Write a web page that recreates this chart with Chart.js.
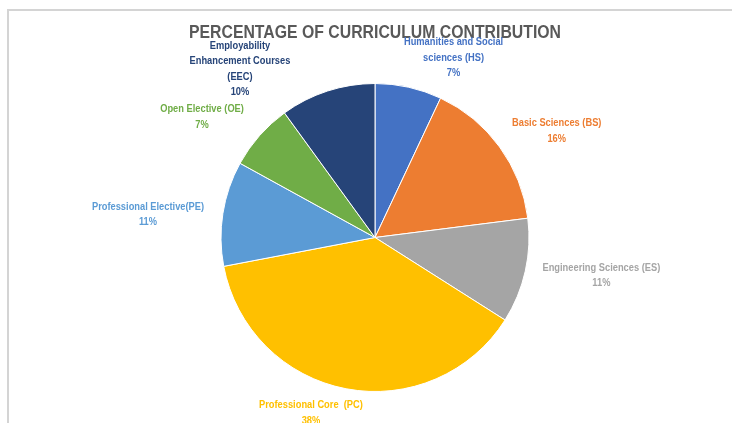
<!DOCTYPE html>
<html>
<head>
<meta charset="utf-8">
<script src="https://cdn.jsdelivr.net/npm/chart.js@4.4.1/dist/chart.umd.min.js"></script>
<style>
  html, body { margin: 0; padding: 0; background: #fff; }
  #wrap { width: 732px; height: 423px; }
</style>
</head>
<body>
<div id="wrap"><canvas id="pie"></canvas></div>
<script>
// ── Data ──
const TITLE = 'PERCENTAGE OF CURRICULUM CONTRIBUTION';
const categories = [
  ['Humanities and Social', 'sciences (HS)'],
  ['Basic Sciences (BS)'],
  ['Engineering Sciences (ES)'],
  ['Professional Core  (PC)'],
  ['Professional Elective(PE)'],
  ['Open Elective (OE)'],
  ['Employability', 'Enhancement Courses', '(EEC)']
];
const shares = [7, 16, 11, 38, 11, 7, 10];
const colors = ['#4472C4', '#ED7D31', '#A5A5A5', '#FFC000', '#5B9BD5', '#70AD47', '#264478'];
// label block centres, in units of the pie radius from the pie centre
const labelPos = [[0.51, -1.166], [1.18, -0.69], [1.47, 0.247], [-0.416, 1.14], [-1.474, -0.149], [-1.123, -0.78], [-0.877, -1.094]];

const FONT = '"Liberation Sans", sans-serif';

// ── Frame + title + data labels ──
const decor = {
  id: 'decor',
  beforeDraw(chart) {
    const c = chart.ctx;
    c.save();
    c.strokeStyle = '#d4d4d4';
    c.lineWidth = 2;
    c.beginPath();
    c.moveTo(8, 423); c.lineTo(8, 10); c.lineTo(732, 10);
    c.stroke();
    c.restore();
  },
  afterDraw(chart) {
    const c = chart.ctx;
    const arc0 = chart.getDatasetMeta(0).data[0];
    const cx = arc0.x, cy = arc0.y, r = arc0.outerRadius;
    c.save();
    c.textAlign = 'center';
    c.textBaseline = 'middle';
    c.fillStyle = '#595959';
    c.font = 'bold 18px ' + FONT;
    c.fillText(TITLE, cx, 33, 372);
    c.font = 'bold 10px ' + FONT;
    const lh = 15.5;
    categories.forEach((lines, i) => {
      const all = lines.concat([shares[i] + '%']);
      const x = cx + labelPos[i][0] * r;
      const y0 = cy + labelPos[i][1] * r - (all.length - 1) * lh / 2;
      c.fillStyle = colors[i];
      all.forEach((t, j) => c.fillText(t, x, y0 + j * lh, c.measureText(t).width * 0.93));
    });
    c.restore();
  }
};

new Chart(document.getElementById('pie'), {
  type: 'pie',
  data: {
    labels: categories.map(l => l.join(' ')),
    datasets: [{
      data: shares,
      backgroundColor: colors,
      borderColor: '#ffffff',
      borderWidth: 1
    }]
  },
  options: {
    responsive: true, maintainAspectRatio: false,
    animation: false,
    layout: { padding: { top: 83, bottom: 31, left: 100, right: 82 } },
    plugins: { legend: { display: false }, tooltip: { enabled: false }, title: { display: false } }
  },
  plugins: [decor]
});
</script>
</body>
</html>
